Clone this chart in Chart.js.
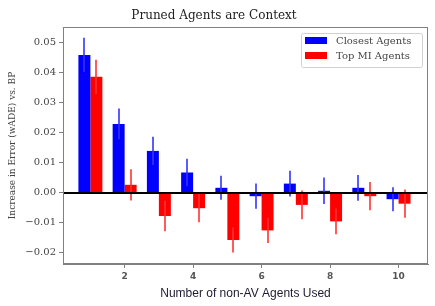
<!DOCTYPE html>
<html>
<head>
<meta charset="utf-8">
<script src="https://cdn.jsdelivr.net/npm/chart.js@4/dist/chart.umd.min.js"></script>
<style>
html,body{margin:0;padding:0;background:#fff;}
#c{display:block;}
</style>
</head>
<body>
<canvas id="c" width="435" height="306"></canvas>
<script>
const agents = [1,2,3,4,5,6,7,8,9,10];
const closestVals = [0.0460,0.0230,0.0140,0.0068,0.0017,-0.0011,0.0031,0.0007,0.0017,-0.0021];
const closestErr  = [0.0057,0.0051,0.0047,0.0046,0.0040,0.0042,0.0043,0.0044,0.0043,0.0040];
const topMIVals   = [0.0387,0.0027,-0.0077,-0.0051,-0.0157,-0.0125,-0.0040,-0.0095,-0.0011,-0.0036];
const topMIErr    = [0.0057,0.0052,0.0051,0.0047,0.0042,0.0042,0.0048,0.0043,0.0047,0.0047];
const xTicks = [2,4,6,8,10];
const yTicks = [-0.02,-0.01,0,0.01,0.02,0.03,0.04,0.05];
const seriesLabels = ['Closest Agents','Top MI Agents'];

const errs = [closestErr, topMIErr];
const errColors = ['rgba(50,50,255,0.8)','rgba(255,50,50,0.8)'];

const extras = {
  id:'extras',
  afterDatasetsDraw(chart){
    const {ctx, chartArea:a, scales:{y}} = chart;
    ctx.save();
    // error bars
    chart.data.datasets.forEach((ds,i)=>{
      const meta = chart.getDatasetMeta(i);
      meta.data.forEach((bar,j)=>{
        const v = ds.data[j].y, e = errs[i][j];
        const y1 = y.getPixelForValue(v+e), y2 = y.getPixelForValue(v-e);
        ctx.strokeStyle = errColors[i];
        ctx.lineWidth = 2;
        ctx.beginPath();
        ctx.moveTo(Math.round(bar.x), y1);
        ctx.lineTo(Math.round(bar.x), y2);
        ctx.stroke();
      });
    });
    // zero line
    const y0 = y.getPixelForValue(0);
    ctx.strokeStyle='#000';
    ctx.lineWidth=2;
    ctx.beginPath();
    ctx.moveTo(a.left,y0);ctx.lineTo(a.right,y0);ctx.stroke();
    // frame
    ctx.strokeStyle='#808080';
    ctx.lineWidth=1;
    ctx.strokeRect(Math.round(a.left)+0.5, Math.round(a.top)+0.5, Math.round(a.right-a.left)-1, Math.round(a.bottom-a.top)-1);
    // legend
    const lx=301.5, ly=33.5, lw=121, lh=34;
    ctx.fillStyle='rgba(255,255,255,0.85)';
    ctx.strokeStyle='#d0d0d0';
    ctx.lineWidth=1;
    ctx.beginPath();
    if (ctx.roundRect) ctx.roundRect(lx,ly,lw,lh,2); else ctx.rect(lx,ly,lw,lh);
    ctx.fill();ctx.stroke();
    ctx.font='10px "DejaVu Serif"';
    ctx.textBaseline='middle';
    ctx.textAlign='left';
    chart.data.datasets.forEach((ds,i)=>{
      const sy = 37 + i*15;
      ctx.fillStyle = ds.backgroundColor;
      ctx.fillRect(305, sy, 22, 7);
      ctx.fillStyle='#444';
      ctx.fillText(ds.label, 336, sy+4);
    });
    ctx.restore();
  }
};

new Chart(document.getElementById('c'), {
  type:'bar',
  data:{
    datasets:[
      {label:seriesLabels[0], data:agents.map((x,i)=>({x, y:closestVals[i]})), backgroundColor:'#0000ff', borderWidth:0},
      {label:seriesLabels[1], data:agents.map((x,i)=>({x, y:topMIVals[i]})), backgroundColor:'#ff0000', borderWidth:0}
    ]
  },
  options:{
    responsive:false,
    animation:false,
    devicePixelRatio:1,
    layout:{padding:{left:0,right:7,top:0,bottom:0}},
    categoryPercentage:0.7,
    barPercentage:1.0,
    plugins:{
      legend:{display:false},
      tooltip:{enabled:false},
      title:{display:true, text:'Pruned Agents are Context', color:'#222',
        font:{family:'"DejaVu Serif"', size:12, weight:'normal', lineHeight:'15px'},
        padding:{top:8,bottom:4}}
    },
    scales:{
      x:{
        type:'linear', min:0.2, max:10.86, offset:false,
        afterBuildTicks(ax){ ax.ticks = xTicks.map(v=>({value:v})); },
        afterFit(ax){ ax.height = 42; },
        grid:{offset:false, drawOnChartArea:false, drawTicks:true, tickLength:4, color:'#808080'},
        border:{display:true, color:'#808080'},
        ticks:{color:'#555', font:{family:'"DejaVu Sans"', size:9, weight:'bold'}, padding:3, maxRotation:0},
        title:{display:true, text:'Number of non-AV Agents Used', color:'#1c1c30',
          font:{family:'"Liberation Sans"', size:12}, padding:{top:2,bottom:5}}
      },
      y:{
        type:'linear', min:-0.0237, max:0.0553,
        afterBuildTicks(ax){ ax.ticks = yTicks.map(v=>({value:v})); },
        afterFit(ax){ ax.width = 63; },
        grid:{drawOnChartArea:false, drawTicks:true, tickLength:4, color:'#808080'},
        border:{display:true, color:'#808080'},
        ticks:{color:'#444', font:{family:'"DejaVu Serif"', size:10}, padding:3,
          callback:v=>(v<0?'\u2212':'')+Math.abs(v).toFixed(2)},
        title:{display:true, text:'Increase in Error (wADE) vs. BP', color:'#444',
          font:{family:'"DejaVu Serif"', size:9}, padding:{top:7,bottom:0}}
      }
    }
  },
  plugins:[extras]
});
</script>
</body>
</html>
